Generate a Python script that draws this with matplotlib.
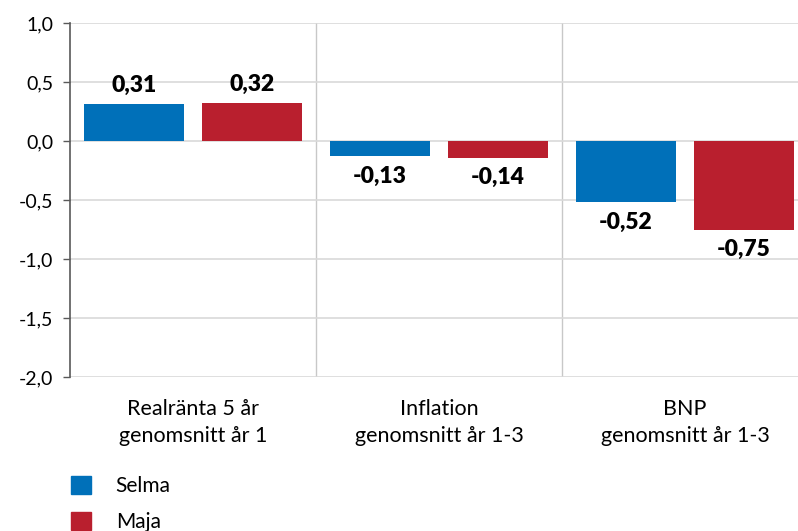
import numpy as np
import matplotlib.pyplot as plt
from matplotlib.patches import Patch

plt.rcParams['font.family'] = ['Lato', 'DejaVu Sans']

# Data
categories = ['Realränta 5 år\ngenomsnitt år 1',
              'Inflation\ngenomsnitt år 1-3',
              'BNP\ngenomsnitt år 1-3']
series_names = ['Selma', 'Maja']
selma = [0.31, -0.13, -0.52]
maja = [0.32, -0.14, -0.75]
yticks = [-2.0, -1.5, -1.0, -0.5, 0.0, 0.5, 1.0]

colors = ['#0070b9', '#b91f2e']

fig = plt.figure(figsize=(7.98, 5.31), dpi=100)
ax = fig.add_axes([70/798, 1 - 377/531, 738/798, 354/531])

x = np.arange(len(categories))
w = 0.406
off = 0.24
for vals, dx, c in [(selma, -off, colors[0]), (maja, off, colors[1])]:
    bars = ax.bar(x + dx, vals, width=w, color=c, zorder=3)
    for b, v in zip(bars, vals):
        lbl = ('%.2f' % v).replace('.', ',')
        if v >= 0:
            ax.annotate(lbl, (b.get_x() + b.get_width()/2, v), xytext=(0, 6),
                        textcoords='offset points', ha='center', va='bottom',
                        fontsize=16.5, fontweight='heavy')
        else:
            ax.annotate(lbl, (b.get_x() + b.get_width()/2, v), xytext=(0, -7),
                        textcoords='offset points', ha='center', va='top',
                        fontsize=16.5, fontweight='heavy')

ax.set_xlim(-0.5, 2.5)
ax.set_ylim(-2.0, 1.0)
ax.set_yticks(yticks)
ax.set_yticklabels([('%.1f' % t).replace('.', ',') for t in yticks], fontsize=14)
ax.set_xticks(x)
ax.set_xticklabels(categories, fontsize=15.5, linespacing=1.42)
ax.tick_params(axis='x', length=0, pad=16)
ax.tick_params(axis='y', length=5, width=1, color='#595959', pad=7)

for s in ['top', 'right', 'bottom']:
    ax.spines[s].set_visible(False)
ax.spines['left'].set_color('#595959')
ax.spines['left'].set_linewidth(1.2)

ax.yaxis.grid(True, color='#d9d9d9', linewidth=1.2, zorder=0)
for b in [0.5, 1.5]:
    ax.axvline(b, color='#c8c8c8', linewidth=1, zorder=1)

handles = [Patch(color=colors[0]), Patch(color=colors[1])]
fig.legend(handles, series_names, loc='upper left', bbox_to_anchor=(52/798, 1 - 457/531),
           frameon=False, fontsize=15, handlelength=0.96, handleheight=0.96,
           handletextpad=1.2, labelspacing=0.78)

plt.savefig('out.png', dpi=100)
